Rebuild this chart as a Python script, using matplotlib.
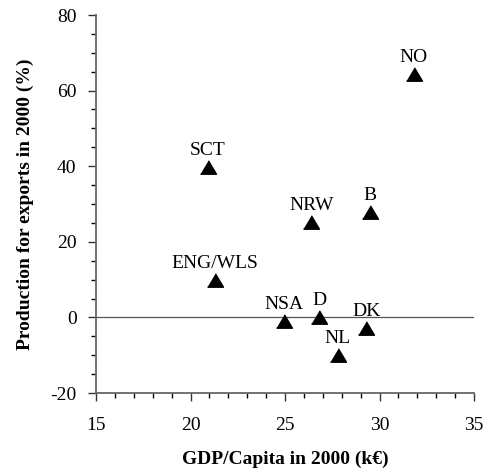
import matplotlib.pyplot as plt
from matplotlib.ticker import MultipleLocator

# regions and values
regions = ['NO', 'B', 'NRW', 'SCT', 'ENG/WLS', 'NSA', 'D', 'DK', 'NL']
gdp = [31.8, 29.5, 26.4, 20.9, 21.3, 24.95, 26.8, 29.3, 27.8]
exports = [64.5, 28.0, 25.2, 39.8, 10.0, -1.0, 0.1, -2.7, -10.0]

plt.rcParams['font.family'] = ['Liberation Serif', 'DejaVu Serif']
plt.rcParams['axes.unicode_minus'] = False

fig = plt.figure(figsize=(4.84, 4.73), dpi=100)
ax = fig.add_axes([96 / 484, 80 / 473, 378 / 484, 378 / 473])

tri = [(-1, -0.84), (1, -0.84), (0, 0.84)]
ax.axhline(0, color='#555555', lw=0.9, zorder=1)
ax.plot(gdp, exports, ls='none', marker=tri, ms=11.5, color='black', zorder=3)

for name, x, y in zip(regions, gdp, exports):
    ax.annotate(name, (x, y), xytext=(0, 8.5), textcoords='offset points',
                ha='center', va='baseline', fontsize=14)

ax.set_xlim(15, 35)
ax.set_ylim(-20, 80)
ax.xaxis.set_major_locator(MultipleLocator(5))
ax.xaxis.set_minor_locator(MultipleLocator(1))
ax.yaxis.set_major_locator(MultipleLocator(20))
ax.yaxis.set_minor_locator(MultipleLocator(5))

for side in ['top', 'right']:
    ax.spines[side].set_visible(False)
for side in ['left', 'bottom']:
    ax.spines[side].set_color('#666666')
    ax.spines[side].set_linewidth(1.3)

ax.tick_params(which='major', direction='out', length=6, width=1, color='#333333',
               labelsize=14)
ax.tick_params(axis='x', which='major', pad=11)
ax.tick_params(axis='y', which='major', pad=8)
ax.tick_params(which='minor', direction='out', length=3.5, width=1, color='black')

ax.set_xlabel('GDP/Capita in 2000 (k€)', fontsize=14, fontweight='bold', labelpad=12)
ax.set_ylabel('Production for exports in 2000 (%)', fontsize=14, fontweight='bold', labelpad=12)

fig.savefig('out.png', dpi=100)
